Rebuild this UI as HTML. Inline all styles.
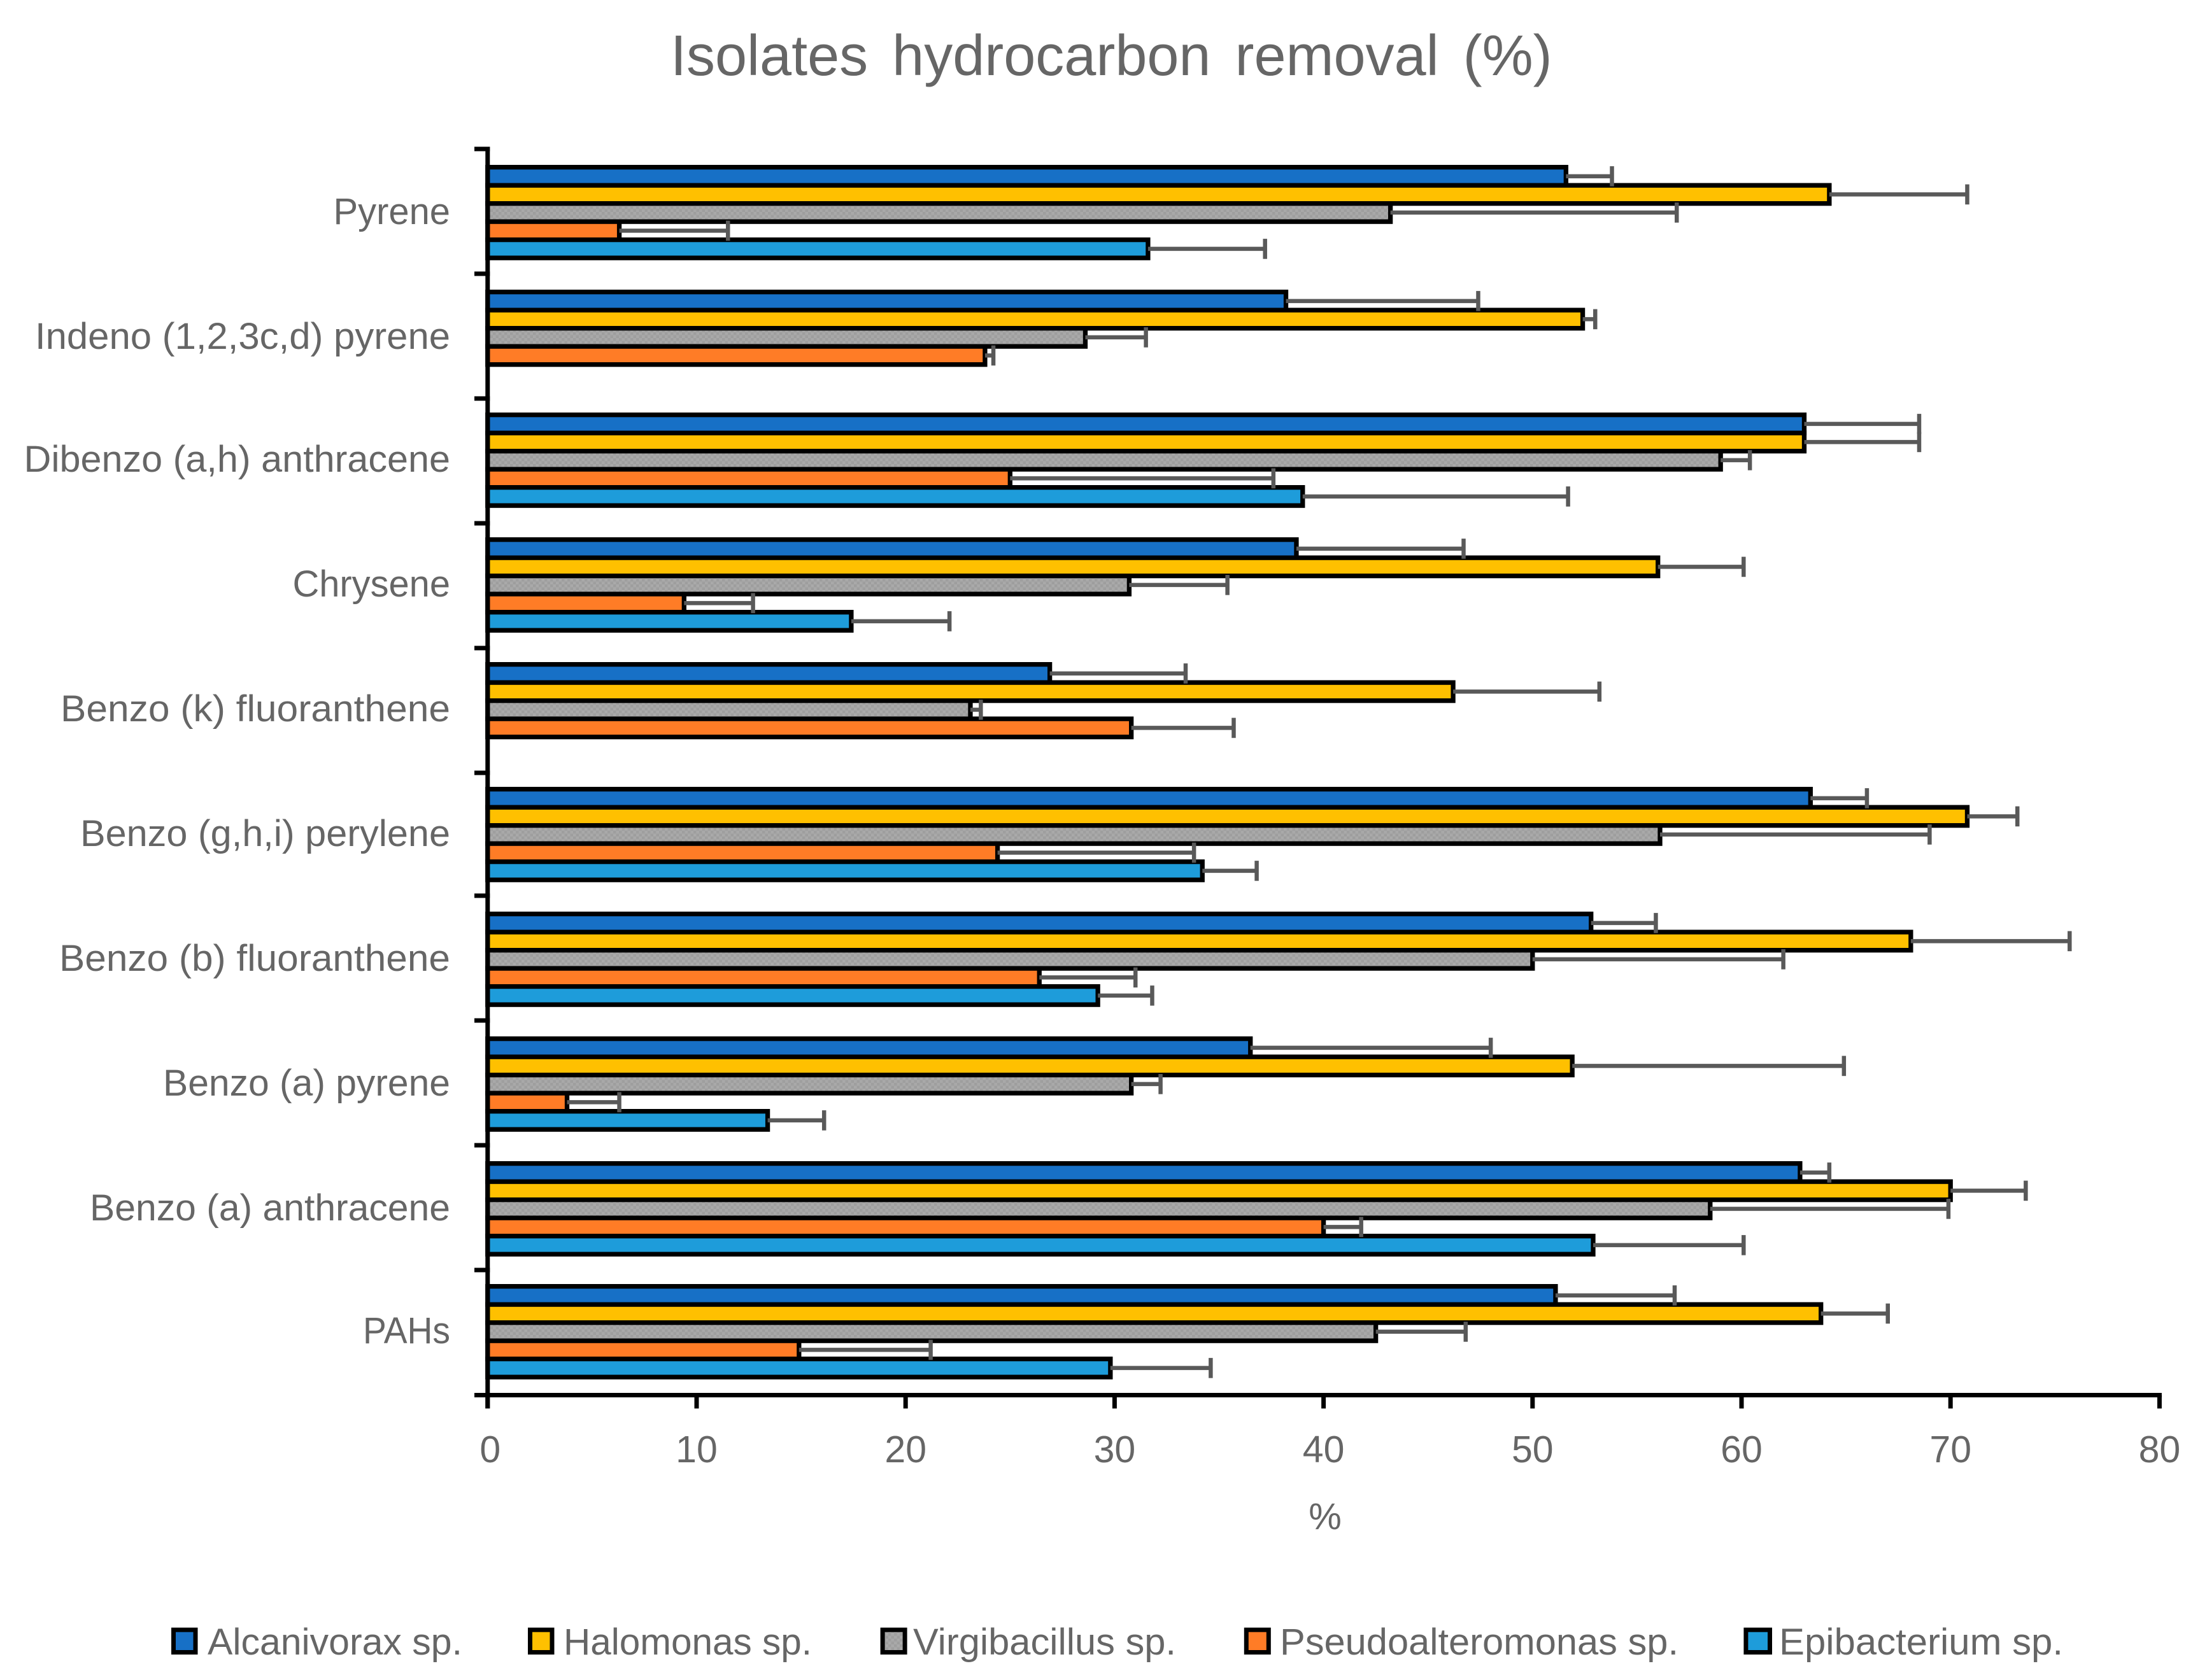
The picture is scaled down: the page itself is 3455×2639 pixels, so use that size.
<!DOCTYPE html>
<html lang="en">
<head>
<meta charset="utf-8">
<title>Isolates hydrocarbon removal</title>
<style>
html,body{margin:0;padding:0;background:#fff;}
svg{display:block;}
text{font-family:"Liberation Sans",sans-serif;fill:#666;}
</style>
</head>
<body>
<svg id="chart" xmlns="http://www.w3.org/2000/svg" width="3455" height="2639" viewBox="0 0 3455 2639">
<defs>
<pattern id="grey-dither" width="9" height="9" patternUnits="userSpaceOnUse">
<rect width="9" height="9" fill="#a9a9a9"/>
<rect x="0" y="0" width="4.5" height="4.5" fill="#9e9e9e"/>
<rect x="4.5" y="4.5" width="4.5" height="4.5" fill="#9e9e9e"/>
</pattern>
</defs>
<rect width="3455" height="2639" fill="#fff"/>
<text x="1053" y="118" font-size="90" word-spacing="13">Isolates hydrocarbon removal (%)</text>
<text x="2081" y="2402" font-size="58" text-anchor="middle">%</text>
<g id="marks"></g>
<g id="axes"></g>
<g id="legend"></g>
</svg>
<script>
const categories = ["Pyrene","Indeno (1,2,3c,d) pyrene","Dibenzo (a,h) anthracene","Chrysene","Benzo (k) fluoranthene","Benzo (g,h,i) perylene","Benzo (b) fluoranthene","Benzo (a) pyrene","Benzo (a) anthracene","PAHs"];
const seriesNames = ["Alcanivorax sp.","Halomonas sp.","Virgibacillus sp.","Pseudoalteromonas sp.","Epibacterium sp."];
const alcanivorax = [51.6,38.2,63,38.7,26.9,63.3,52.8,36.5,62.8,51.1];
const halomonas = [64.2,52.4,63,56,46.2,70.8,68.1,51.9,70,63.8];
const virgibacillus = [43.2,28.6,59,30.7,23.1,56.1,50,30.8,58.5,42.5];
const pseudoalteromonas = [6.3,23.8,25,9.4,30.8,24.4,26.4,3.8,40,14.9];
const epibacterium = [31.6,null,39,17.4,null,34.2,29.2,13.4,52.9,29.8];
const alcanivoraxErr = [2.2,9.2,5.5,8,6.5,2.7,3.1,11.5,1.4,5.7];
const halomonasErr = [6.6,0.6,5.5,4.1,7,2.4,7.6,13,3.6,3.2];
const virgibacillusErr = [13.7,2.9,1.4,4.7,0.5,12.9,12,1.4,11.4,4.3];
const pseudoalteromonasErr = [5.2,0.4,12.6,3.3,4.9,9.4,4.6,2.5,1.8,6.3];
const epibacteriumErr = [5.6,null,12.7,4.7,null,2.6,2.6,2.7,7.2,4.8];
const xTicks = [0,10,20,30,40,50,60,70,80];

const seriesValues = [alcanivorax,halomonas,virgibacillus,pseudoalteromonas,epibacterium];
const seriesErrors = [alcanivoraxErr,halomonasErr,virgibacillusErr,pseudoalteromonasErr,epibacteriumErr];
const seriesFills = ["#1770c6","#ffc000","url(#grey-dither)","#ff7c26","#1e9cda"];
const seriesKeys = ["alcanivorax","halomonas","virgibacillus","pseudoalteromonas","epibacterium"];

// layout of text and legend (not data)
const labelWidths = [183.5,652,669.5,247.5,612,581,614,451,566,137];
const swatchX = [269,829,1382.6,1953.8,2738.4];
const swatchW = [41.5,41.5,42,42,44.6];
const legendTextX = [326,885,1434,2010,2794];
const legendTextW = [400,390,413,626,446];

const NS = "http://www.w3.org/2000/svg";
const X0 = 765.8, PX_PER_UNIT = 32.82, AXIS_Y = 2191.5, AXIS_TOP = 234;
const STROKE = 7.3, SLOT = 28.5;
const xScale = v => X0 + v * PX_PER_UNIT;
const groupTop = i => 259 + i * 196 - (i >= 2 ? 3 : 0) - (i >= 9 ? 3 : 0);
const barY = (i, s) => groupTop(i) + STROKE / 2 + s * SLOT;
const tickY = i => i >= categories.length ? AXIS_Y : AXIS_TOP + i * 196 - (i >= 6 ? 3 : 0);

function mk(tag, attrs, parent, text) {
  const el = document.createElementNS(NS, tag);
  for (const k in attrs) el.setAttribute(k, attrs[k]);
  if (text !== undefined) el.textContent = text;
  parent.appendChild(el);
  return el;
}

const marks = document.getElementById("marks");
const axes = document.getElementById("axes");
const legend = document.getElementById("legend");

// bars
categories.forEach((cat, i) => {
  seriesValues.forEach((vals, s) => {
    if (vals[i] === null) return;
    const bar = mk("rect", {x: X0, y: barY(i, s), width: xScale(vals[i]) - X0, height: SLOT, fill: seriesFills[s], stroke: "#000", "stroke-width": STROKE}, marks);
    
    
  });
});

// error bars
categories.forEach((cat, i) => {
  seriesValues.forEach((vals, s) => {
    if (vals[i] === null || seriesErrors[s][i] === null) return;
    const cy = barY(i, s) + SLOT / 2;
    const x1 = xScale(vals[i]);
    const x2 = xScale(vals[i] + seriesErrors[s][i]);
    const g = mk("g", {stroke: "#595959", "stroke-width": 6.5}, marks);
    
    
    mk("line", {x1: x1, x2: x2, y1: cy, y2: cy}, g);
    mk("line", {x1: x2, x2: x2, y1: cy - 15.8, y2: cy + 15.8}, g);
  });
});

// y axis
const yLine = mk("line", {x1: X0, x2: X0, y1: AXIS_TOP - 3.5, y2: AXIS_Y + 21, stroke: "#000", "stroke-width": 7}, axes);


for (let i = 0; i <= categories.length; i++) {
  const t = mk("line", {x1: 745, x2: X0 + 3.5, y1: tickY(i), y2: tickY(i), stroke: "#000", "stroke-width": 7}, axes);
  
  
}
categories.forEach((cat, i) => {
  const label = mk("text", {x: 707, y: groupTop(i) + 93, "font-size": 58, "text-anchor": "end", textLength: labelWidths[i], lengthAdjust: "spacingAndGlyphs"}, axes, cat);
  
  
});

// x axis
const xLine = mk("line", {x1: X0, x2: xScale(80) + 3.5, y1: AXIS_Y, y2: AXIS_Y, stroke: "#000", "stroke-width": 7}, axes);


xTicks.forEach(v => {
  const t = mk("line", {x1: xScale(v), x2: xScale(v), y1: AXIS_Y, y2: AXIS_Y + 21, stroke: "#000", "stroke-width": 7}, axes);
  
  
  const label = mk("text", {x: xScale(v) + (v === 0 ? 4 : 0), y: 2297, "font-size": 59, "text-anchor": "middle"}, axes, String(v));
  
  
});

// legend
seriesNames.forEach((name, s) => {
  const entry = mk("g", {}, legend);
  
  
  const sw = mk("rect", {x: swatchX[s] + 3.5, y: 2560.2, width: swatchW[s] - 7, height: 35.3, fill: seriesFills[s], stroke: "#000", "stroke-width": 7}, entry);
  
  
  const tx = mk("text", {x: legendTextX[s], y: 2599, "font-size": 58, textLength: legendTextW[s], lengthAdjust: "spacingAndGlyphs"}, entry, name);
  
  
});
</script>
</body>
</html>
